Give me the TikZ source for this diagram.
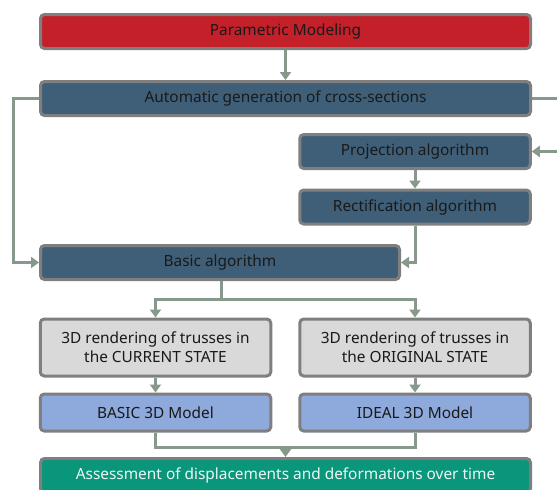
\documentclass[tikz,border=0pt]{standalone}
\usepackage{fontspec}
\setmainfont{Noto Sans}
\usepackage{tikz}
\usetikzlibrary{arrows.meta}
\usetikzlibrary{calc}
\definecolor{parred}{HTML}{C3202A}
\definecolor{algblue}{HTML}{3F5F78}
\definecolor{rendgray}{HTML}{D9D9D9}
\definecolor{modblue}{HTML}{8EA9DB}
\definecolor{assgreen}{HTML}{0A967A}
\definecolor{rimgray}{HTML}{7F7F7F}
\definecolor{linkgray}{HTML}{86998B}
\newcommand{\bxlw}{3pt}
\newcommand{\bxh}{34pt}
\newcommand{\bxwide}{490pt}
\newcommand{\bxhalf}{230.5pt}
\newcommand{\fntsz}{\fontsize{15.4}{19}\selectfont}

\begin{document}
\begin{tikzpicture}[x=1pt,y=-1pt,
    box/.style={draw=rimgray,line width=\bxlw,rounded corners=4pt,
      minimum height=\bxh,inner sep=0pt,align=center,font=\fntsz,
      text=black!90},
    link/.style={draw=linkgray,line width=3pt},
    arr/.style={link,-{Triangle[width=11pt,length=8pt]}}]
    \useasboundingbox (0,0) rectangle (557,490);
    \clip (0,0) rectangle (557,490);

    \node (param) at (285.5,31.5) [box,fill=parred,minimum width=\bxwide]
      {Parametric Modeling};
    \node (auto) at (285.5,98.5) [box,fill=algblue,minimum width=\bxwide]
      {Automatic generation of cross-sections};
    \node (proj) at (415,151.5) [box,fill=algblue,minimum width=\bxhalf]
      {Projection algorithm};
    \node (rect) at (415,207) [box,fill=algblue,minimum width=\bxhalf]
      {Rectification algorithm};
    \node (basic) at (220,262.5) [box,fill=algblue,minimum width=359pt]
      {Basic algorithm};
    \node (cur) at (155.5,347.5) [box,fill=rendgray,minimum width=\bxhalf,
      minimum height=57pt] {3D rendering of trusses in\\the CURRENT STATE};
    \node (orig) at (415,347.5) [box,fill=rendgray,minimum width=\bxhalf,
      minimum height=57pt] {3D rendering of trusses in\\the ORIGINAL STATE};
    \node (bas3d) at (155.5,412.5) [box,fill=modblue,minimum width=\bxhalf,
      minimum height=37pt] {BASIC 3D Model};
    \node (ideal) at (415,412.5) [box,fill=modblue,minimum width=\bxhalf,
      minimum height=37pt] {IDEAL 3D Model};
    \node (assess) at (285.5,475.5) [box,fill=assgreen,minimum width=\bxwide,
      text=white!92!assgreen]
      {Assessment of displacements and deformations over time};

    \coordinate (split) at ($(basic.south)+(1,18)$);
    \coordinate (merge) at (assess.north |- 0,447);

    \draw[arr] (param) -- (auto);
    \draw[arr] (auto.west) -- ++(-26,0) |- (basic.west);
    \draw[arr] (auto.east) -- ++(30,0) |- (proj.east);
    \draw[arr] (proj) -- (rect);
    \draw[arr] (rect.south) |- (basic.east);
    \draw[link] (basic.south -| split) -- (split);
    \draw[arr] (split) -| (cur.north);
    \draw[arr] (split) -| (orig.north);
    \draw[arr] (cur) -- (bas3d);
    \draw[arr] (orig) -- (ideal);
    \draw[link] (bas3d.south) |- (merge) -| (ideal.south);
    \draw[arr] (merge) -- (assess.north);
  \end{tikzpicture}
\end{document}
